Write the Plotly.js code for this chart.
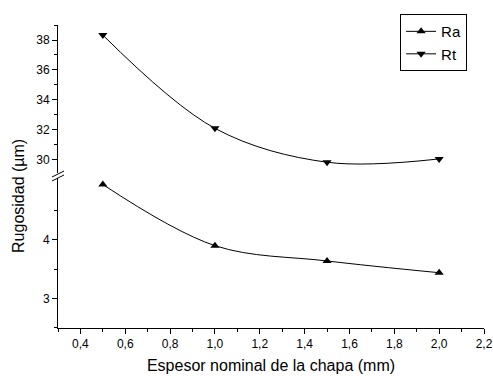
<!DOCTYPE html>
<html>
<head>
<meta charset="utf-8">
<script src="https://cdn.plot.ly/plotly-3.0.1.min.js"></script>
<style>html,body{margin:0;padding:0;background:#fff;}#chart{width:493px;height:376px;}</style>
</head>
<body>
<div id="chart"></div>
<script>
const espesor = [0.5, 1.0, 1.5, 2.0];
const ra = [4.94, 3.90, 3.64, 3.44];
const rt = [38.33, 32.11, 29.85, 30.07];
const seriesNames = ['Ra', 'Rt'];
const xTicks = [0.4, 0.6, 0.8, 1.0, 1.2, 1.4, 1.6, 1.8, 2.0, 2.2];
const raTicks = [3, 4];
const raMinor = [2.5, 3.5, 4.5];
const rtTicks = [30, 32, 34, 36, 38];
const rtMinor = [31, 33, 35, 37, 39];

const font = {family: 'Liberation Sans, Arial, sans-serif', color: '#000'};

const traces = [
  {x: espesor, y: ra, name: seriesNames[0], type: 'scatter', mode: 'lines+markers',
   xaxis: 'x', yaxis: 'y',
   line: {color: '#000', width: 1, shape: 'spline', smoothing: 1},
   marker: {symbol: 'triangle-up', size: 8, color: '#000'}},
  {x: espesor, y: rt, name: seriesNames[1], type: 'scatter', mode: 'lines+markers',
   xaxis: 'x', yaxis: 'y2',
   line: {color: '#000', width: 1, shape: 'spline', smoothing: 1},
   marker: {symbol: 'triangle-down', size: 8, color: '#000'}}
];

const axisCommon = {
  showline: true, linecolor: '#000', linewidth: 1, mirror: false,
  showgrid: false, zeroline: false,
  ticks: 'outside', ticklen: 5, tickwidth: 1, tickcolor: '#000',
  tickfont: Object.assign({size: 12}, font)
};
const minorCommon = {ticklen: 3, tickcolor: '#000', ticks: 'outside', showgrid: false};

const layout = {
  width: 493, height: 376,
  margin: {l: 58, r: 9, t: 25, b: 48},
  paper_bgcolor: '#fff', plot_bgcolor: '#fff',
  separators: ',.',
  showlegend: true,
  legend: {x: 0.803, y: 1.036, xanchor: 'left', yanchor: 'top',
           bordercolor: '#000', borderwidth: 1, bgcolor: '#fff',
           font: Object.assign({size: 15}, font), tracegroupgap: 0},
  xaxis: Object.assign({}, axisCommon, {
    range: [0.3, 2.2], tickmode: 'array', tickvals: xTicks, tickformat: '.1f',
    anchor: 'y',
    minor: Object.assign({dtick: 0.1, tick0: 0.3}, minorCommon),
    title: {text: 'Espesor nominal de la chapa (mm)', font: Object.assign({size: 16}, font), standoff: 9}
  }),
  yaxis: Object.assign({}, axisCommon, {
    domain: [0, 0.495], range: [2.5, 5.05], tickmode: 'array', tickvals: raTicks,
    anchor: 'x',
    minor: Object.assign({tickmode: 'array', tickvals: raMinor}, minorCommon)
  }),
  yaxis2: Object.assign({}, axisCommon, {
    domain: [0.51, 1], range: [29.1, 39], tickmode: 'array', tickvals: rtTicks,
    anchor: 'x',
    minor: Object.assign({tickmode: 'array', tickvals: rtMinor}, minorCommon)
  }),
  annotations: [
    {text: 'Rugosidad (\u00b5m)', textangle: -90, xref: 'paper', yref: 'paper',
     x: -40/425.7, y: (328-196)/303, xanchor: 'center', yanchor: 'middle',
     showarrow: false, font: Object.assign({size: 16}, font)}
  ],
  shapes: [
    {type: 'line', xref: 'paper', yref: 'paper',
     x0: -6/425.7, x1: 6/425.7, y0: (328-181)/303, y1: (328-175)/303,
     line: {color: '#000', width: 1}},
    {type: 'line', xref: 'paper', yref: 'paper',
     x0: -6/425.7, x1: 6/425.7, y0: (328-177)/303, y1: (328-171)/303,
     line: {color: '#000', width: 1}}
  ]
};

Plotly.newPlot('chart', traces, layout, {displayModeBar: false, staticPlot: true});
</script>
</body>
</html>
